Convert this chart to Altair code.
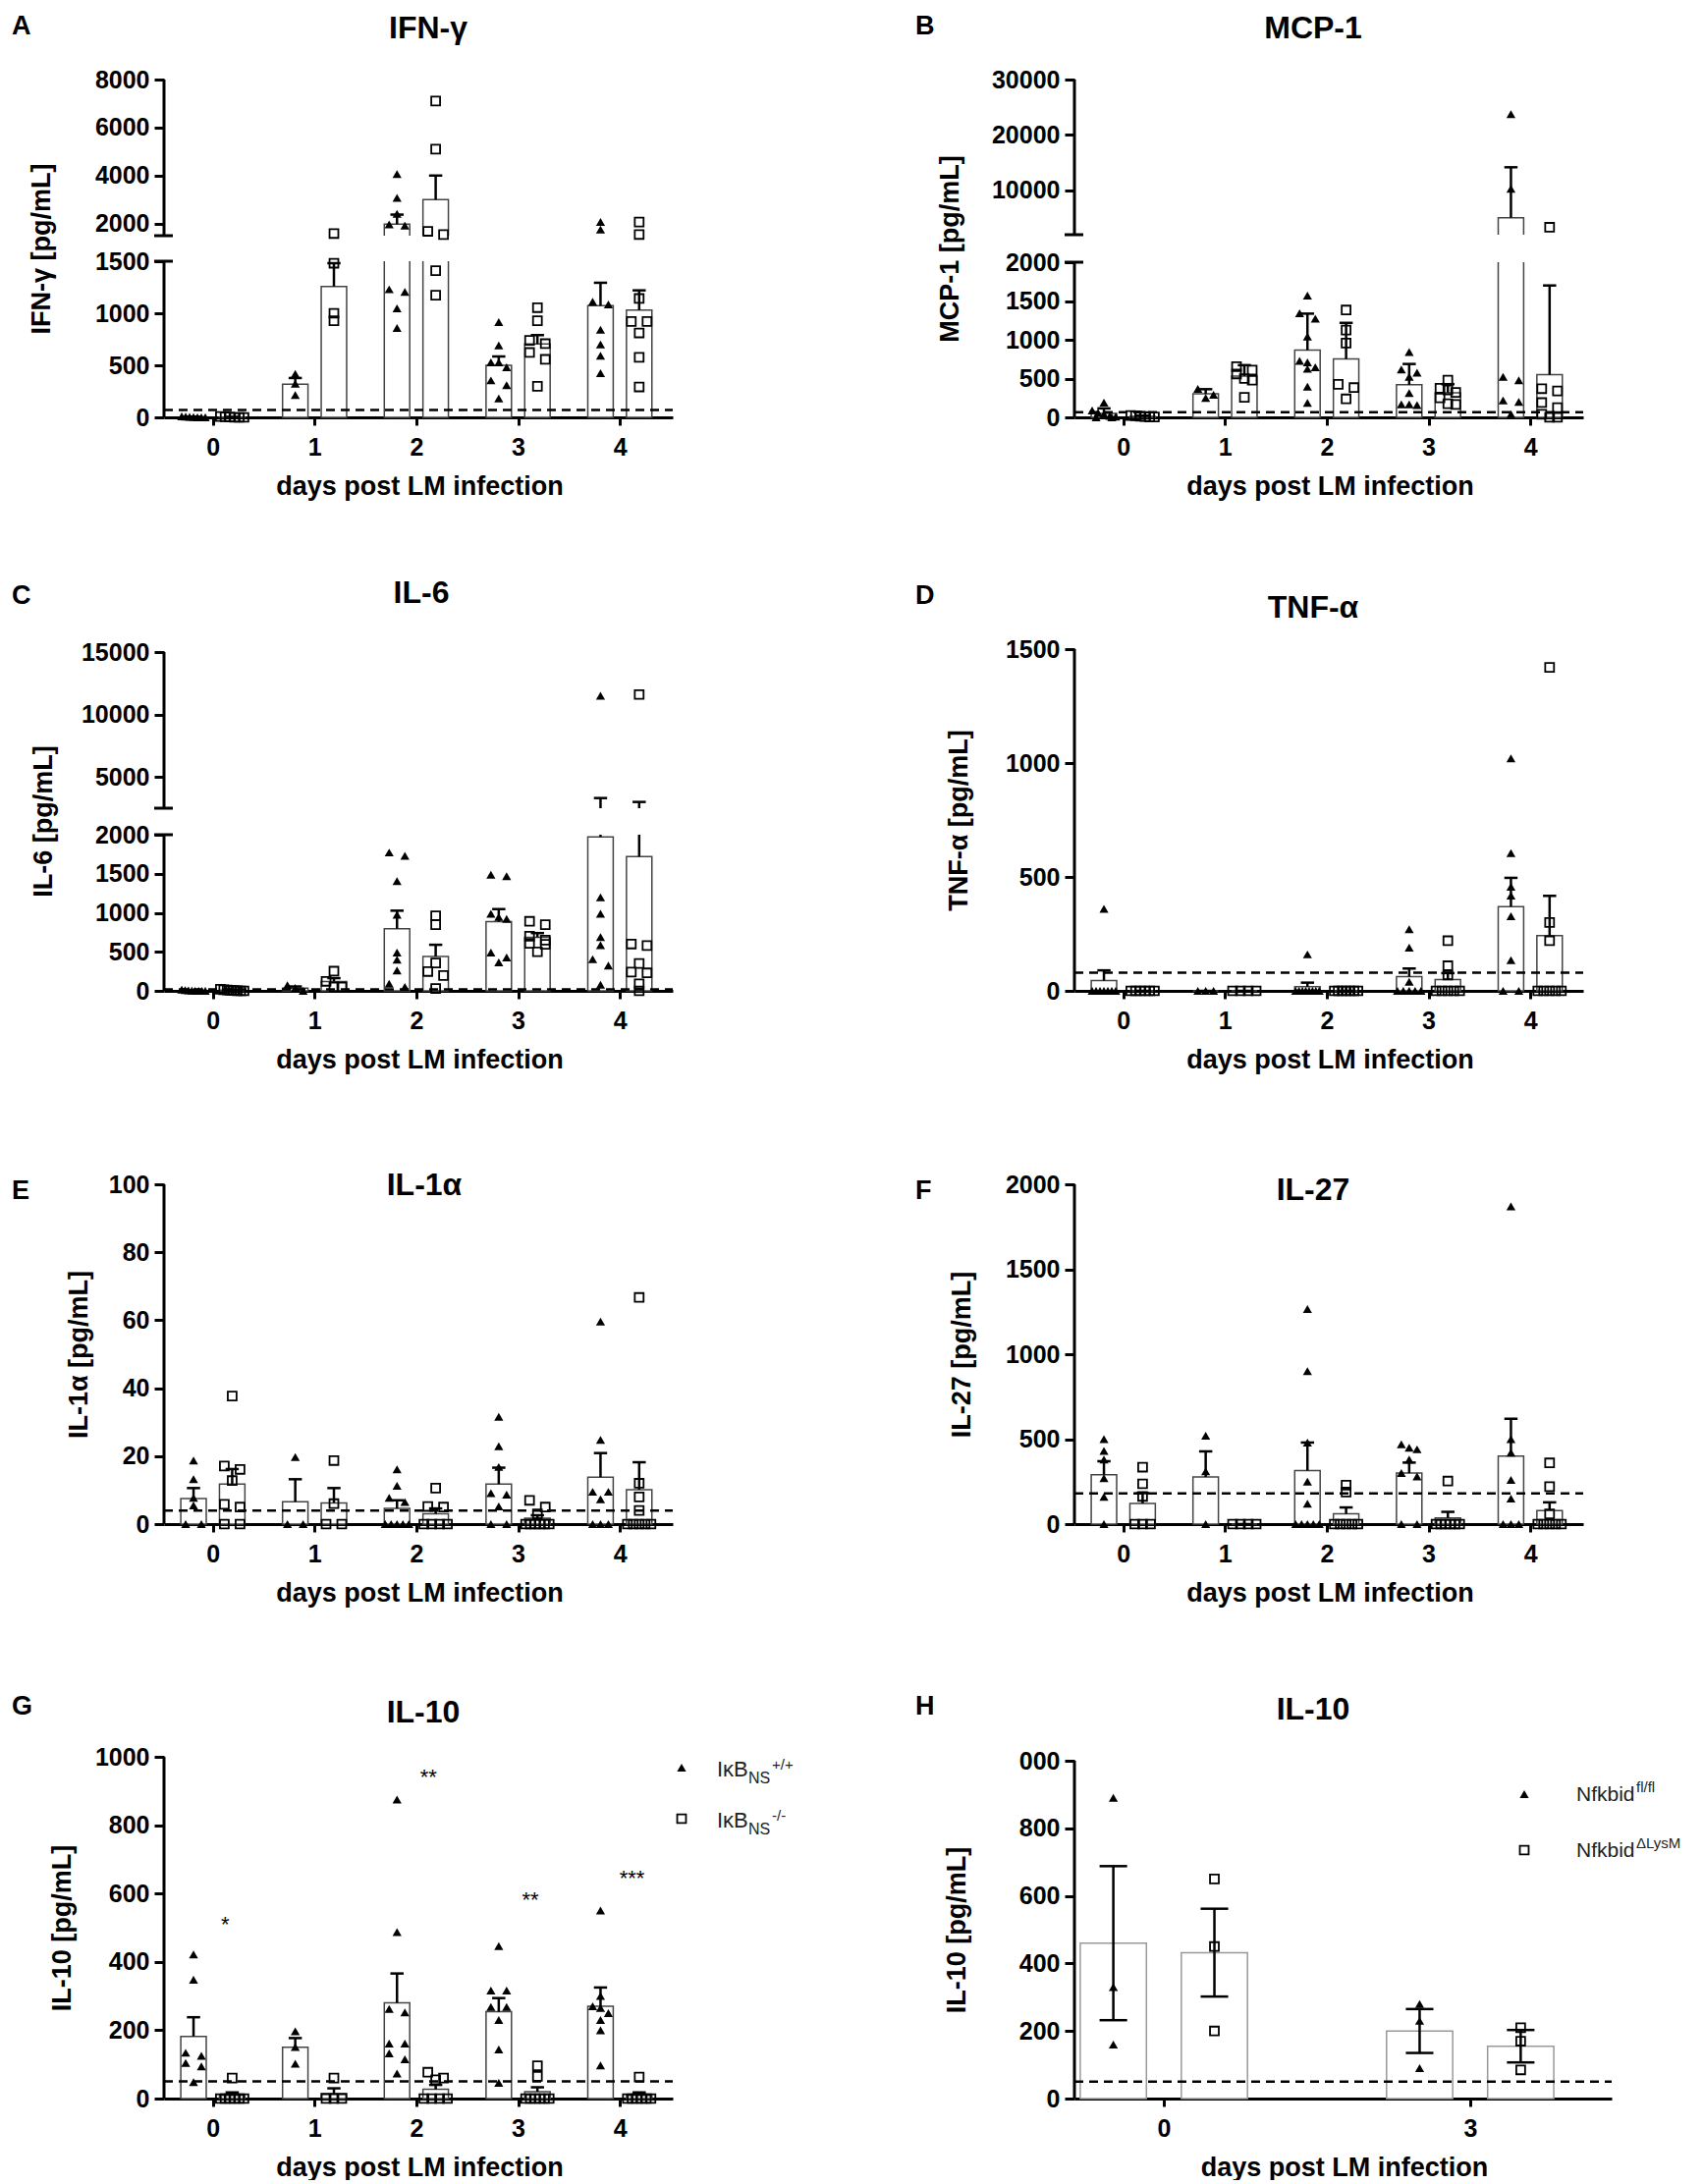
import altair as alt
import numpy as np
import pandas as pd

FONT = "Liberation Sans"

# ------------------------------------------------------------------ data
DAYS = [0, 1, 2, 3, 4]
DAY_LABELS = ["0", "1", "2", "3", "4"]
H_POS = [0, 1]
H_LABELS = ["0", "3"]
X_TITLE = "days post LM infection"

# A  IFN-gamma
IFNG_WT = [[10, 6, 4, 2, 0, 0, 0], [418, 324, 214],
           [4069, 3076, 2414, 1972, 1917, 1230, 1205, 1047, 859],
           [915, 692, 528, 528, 481, 355, 308, 182],
           [2069, 1752, 1110, 1085, 843, 701, 591, 425]]
IFNG_KO = [[8, 5, 3, 0, 0, 0], [1590, 1481, 1000, 928],
           [7103, 5103, 1683, 1545, 1409, 1173],
           [1054, 928, 739, 708, 623, 557, 299],
           [2069, 1550, 1142, 921, 921, 811, 576, 292]]
IFNG_WT_MEAN = [4, 319, 1977, 499, 1072]
IFNG_WT_ERR = [3, 59, 400, 86, 221]
IFNG_KO_MEAN = [3, 1258, 3003, 705, 1030]
IFNG_KO_ERR = [2, 223, 1000, 85, 190]
IFNG_LOD = 70

# B  MCP-1
MCP1_WT = [[190, 90, 60, 40, 20, 10, 0, 0], [367, 292, 250],
           [1571, 1342, 1271, 1042, 729, 708, 646, 625, 396, 188],
           [842, 617, 575, 521, 313, 167, 167, 158],
           [23739, 10290, 521, 479, 217, 200, 42]]
MCP1_KO = [[25, 20, 15, 10, 5, 5], [654, 610, 560, 500, 479, 258],
           [1383, 1125, 958, 425, 383, 238],
           [479, 375, 354, 321, 250, 175, 167],
           [3333, 370, 340, 190, 125, 40, 0, 0]]
MCP1_WT_MEAN = [51, 303, 867, 420, 5070]
MCP1_WT_ERR = [65, 60, 470, 268, 9100]
MCP1_KO_MEAN = [13, 533, 752, 318, 550]
MCP1_KO_ERR = [9, 140, 466, 110, 1150]
MCP1_LOD = 65

# C  IL-6
IL6_WT = [[15, 10, 5, 3, 0, 0, 0, 0], [71, 38, 0],
          [1772, 1730, 1407, 974, 491, 399, 260, 92, 50],
          [1487, 1470, 987, 945, 920, 491, 428, 365],
          [11510, 1197, 987, 689, 584, 407, 323, 80]]
IL6_KO = [[20, 15, 10, 8, 5, 3, 0, 0], [252, 122, 50, 50],
          [962, 848, 357, 248, 197, 29],
          [890, 848, 701, 650, 609, 596, 500],
          [11600, 600, 580, 350, 240, 230, 90, 0]]
IL6_WT_MEAN = [4, 36, 797, 887, 1972]
IL6_WT_ERR = [2, 20, 230, 160, 1340]
IL6_KO_MEAN = [8, 118, 440, 685, 1720]
IL6_KO_ERR = [3, 45, 150, 55, 1280]
IL6_LOD = 20

# D  TNF-alpha
TNF_WT = [[360, 0, 0, 0, 0, 0, 0, 0], [0, 0, 0],
          [160, 0, 0, 0, 0, 0, 0, 0, 0],
          [270, 190, 40, 0, 0, 0, 0, 0],
          [1020, 605, 457, 418, 328, 135, 0, 0]]
TNF_KO = [[0, 0, 0, 0, 0, 0], [0, 0, 0, 0], [0, 0, 0, 0, 0, 0, 0],
          [220, 110, 70, 0, 0, 0, 0, 0],
          [1420, 300, 220, 0, 0, 0, 0, 0]]
TNF_WT_MEAN = [45, 0, 18, 62, 370]
TNF_WT_ERR = [45, 0, 18, 36, 126]
TNF_KO_MEAN = [0, 0, 0, 50, 242]
TNF_KO_ERR = [0, 0, 0, 28, 175]
TNF_LOD = 80

# E  IL-1alpha
IL1A_WT = [[18.7, 13.2, 7.7, 5.5, 0, 0], [19.7, 0, 0],
           [16.1, 11.3, 7.7, 6.5, 0, 0, 0, 0, 0],
           [31.6, 22.9, 16.8, 9.1, 8.7, 5.2, 0, 0],
           [59.6, 24.8, 9.5, 9.5, 7.3, 0, 0, 0]]
IL1A_KO = [[37.7, 17.1, 16.1, 12.8, 5.8, 5, 0, 0], [18.7, 6, 0, 0],
           [10.6, 5.2, 5, 0, 0, 0, 0],
           [7, 5, 3, 0, 0, 0, 0, 0, 0],
           [66.7, 12, 8, 4, 0, 0, 0, 0, 0]]
IL1A_WT_MEAN = [7.5, 6.6, 4.6, 11.8, 13.8]
IL1A_WT_ERR = [3.1, 6.6, 2.4, 4.8, 7.1]
IL1A_KO_MEAN = [11.8, 6.2, 3.0, 1.7, 10.1]
IL1A_KO_ERR = [4.4, 4.4, 1.6, 0.9, 8.1]
IL1A_LOD = 4

# F  IL-27
IL27_WT = [[500, 430, 380, 270, 160, 0], [520, 310, 0],
           [1266, 900, 480, 250, 120, 0, 0, 0, 0, 0],
           [470, 450, 440, 380, 300, 280, 0, 0],
           [1870, 500, 420, 260, 150, 0, 0, 0]]
IL27_KO = [[335, 237, 163, 0, 0, 0], [0, 0, 0, 0],
           [229, 188, 0, 0, 0, 0, 0],
           [253, 0, 0, 0, 0, 0, 0],
           [360, 220, 60, 0, 0, 0, 0, 0]]
IL27_WT_MEAN = [290, 277, 315, 300, 400]
IL27_WT_ERR = [80, 151, 165, 62, 220]
IL27_KO_MEAN = [122, 0, 60, 36, 80]
IL27_KO_ERR = [60, 0, 38, 36, 48]
IL27_LOD = 180

# G  IL-10 (IkB_NS)
IL10_WT = [[422, 348, 134, 125, 104, 94, 48], [197, 151, 102],
           [875, 487, 262, 252, 161, 161, 132, 115, 73],
           [446, 316, 316, 268, 268, 230, 144, 46],
           [550, 300, 270, 265, 250, 230, 200, 97]]
IL10_KO = [[60, 0, 0, 0, 0, 0, 0], [60, 0, 0, 0],
           [77, 60, 55, 0, 0, 0, 0],
           [96, 65, 0, 0, 0, 0, 0, 0],
           [63, 0, 0, 0, 0, 0, 0]]
IL10_WT_MEAN = [182, 150, 280, 254, 270]
IL10_WT_ERR = [56, 27, 86, 40, 55]
IL10_KO_MEAN = [9, 15, 27, 20, 9]
IL10_KO_ERR = [9, 15, 13, 13, 9]
IL10_LOD = 50
IL10_SIG = ["*", "**", "**", "***"]
IL10_SIG_DAY = [0, 2, 3, 4]
IL10_SIG_Y = [526, 957, 598, 661]

# H  IL-10 (Nfkbid)
NF_WT = [[890, 330, 160], [280, 230, 90]]
NF_KO = [[650, 450, 200], [210, 170, 85]]
NF_WT_MEAN = [460, 200]
NF_WT_ERR = [228, 65]
NF_KO_MEAN = [432, 155]
NF_KO_ERR = [130, 48]
NF_LOD = 50

LEG_G = [("IκB", "NS", "+/+"), ("IκB", "NS", "-/-")]
LEG_H = [("Nfkbid", "fl/fl"), ("Nfkbid", "ΔLysM")]


# ------------------------------------------------------------------ helpers
def spread(vals, c, ypx, ppu, half):
    idx = sorted(range(len(vals)), key=lambda i: ypx(vals[i]))
    xs = [c] * len(vals)
    clusters, cur = [], []
    for i in idx:
        if cur and abs(ypx(vals[i]) - ypx(vals[cur[0]])) > 7:
            clusters.append(cur)
            cur = []
        cur.append(i)
    if cur:
        clusters.append(cur)
    for cl in clusters:
        n = len(cl)
        if n < 2:
            continue
        step = min(16.0 if n == 2 else 8.0, 2.0 * half / (n - 1))
        for j, i in enumerate(cl):
            xs[i] = c + (j - (n - 1) / 2.0) * step / ppu
    return xs


def text_at(s, x, y, size, weight="normal", align="left", baseline="alphabetic", color="black"):
    return alt.Chart(pd.DataFrame({"t": [s]})).mark_text(
        fontSize=size, fontWeight=weight, align=align, baseline=baseline,
        color=color, font=FONT).encode(text="t:N", x=alt.value(x), y=alt.value(y))


def marker_at(shape, x, y):
    if shape == "tri":
        m = alt.Chart(pd.DataFrame({"a": [0]})).mark_point(
            shape="triangle-up", filled=True, color="black", size=85, opacity=1)
    else:
        m = alt.Chart(pd.DataFrame({"a": [0]})).mark_point(
            shape="square", filled=False, color="black", strokeWidth=1.8, size=80, opacity=1)
    return m.encode(x=alt.value(x), y=alt.value(y))


def panel(P):
    W, H = P["w"], P["h"]
    ydom, yrng = P["ydom"], P["yrng"]
    ysc = alt.Scale(type="linear", domain=ydom, range=yrng, nice=False, zero=False)
    xsc = alt.Scale(type="linear", domain=P["xdom"], nice=False, zero=False)
    ppu = W / (P["xdom"][1] - P["xdom"][0])

    def ypx(v):
        return float(np.interp(v, ydom, yrng))

    bar_rows, pt_rows = [], []
    for g, sign in (("wt", -1), ("ko", 1)):
        pts, means, errs = P[g]
        for k, pos in enumerate(P["pos"]):
            c = pos + sign * P["off"]
            m, e = means[k], errs[k]
            bar_rows.append({"g": g, "c": c, "x1": c - P["hw"], "x2": c + P["hw"],
                             "m": m, "base": 0.0, "top": m + e,
                             "bot": (m - e) if P["both"] else m,
                             "c1": c - P["cw"], "c2": c + P["cw"]})
            for v, xx in zip(pts[k], spread(pts[k], c, ypx, ppu, P["half"])):
                pt_rows.append({"g": g, "x": xx, "v": v})
    bars = pd.DataFrame(bar_rows)
    pts = pd.DataFrame(pt_rows)

    lab_list = "[" + ",".join("'%s'" % s for s in P["xlabels"]) + "]"
    xaxis = alt.Axis(values=P["xticks"], labelExpr=lab_list + "[round(datum.value)]",
                     title=X_TITLE, titleX=W / 2 + 1, titleY=78, titleBaseline="alphabetic",
                     titleAlign="center", titleFontSize=27, titleFontWeight="bold",
                     titleColor="black", labelFontSize=25, labelFontWeight="bold",
                     labelColor="black", labelPadding=10, labelFlush=False,
                     labelOverlap=False, tickSize=8, tickWidth=3, tickColor="black",
                     domainWidth=3, domainColor="black", grid=False)
    ykw = dict(values=P["yticks"], title=P["ytitle"], titleX=P["ytx"], titleY=P["yty"],
               titleAngle=270, titleAlign="center", titleBaseline="middle",
               titleFontSize=27, titleFontWeight="bold", titleColor="black",
               labelFontSize=25, labelFontWeight="bold", labelColor="black",
               labelPadding=5, labelFlush=False, labelOverlap=False, tickSize=10,
               tickWidth=3, tickColor="black", domain=False, grid=False, format="d")
    if "ylabelexpr" in P:
        ykw["labelExpr"] = P["ylabelexpr"]
    yaxis = alt.Axis(**ykw)

    def X(f):
        return alt.X(f, scale=xsc, axis=xaxis)

    def Y(f):
        return alt.Y(f, scale=ysc, axis=yaxis)

    layers = []
    layers.append(alt.Chart(bars).mark_bar(fill="white", stroke=P["barstroke"], strokeWidth=1.5).encode(
        x=X("x1:Q"), x2="x2:Q", y=Y("m:Q"), y2="base:Q"))
    layers.append(alt.Chart(bars).mark_rule(color="black", strokeWidth=2.5).encode(
        x=X("c:Q"), y=Y("bot:Q"), y2="top:Q"))
    layers.append(alt.Chart(bars).mark_rule(color="black", strokeWidth=2.5).encode(
        x=X("c1:Q"), x2="c2:Q", y=Y("top:Q")))
    if P["both"]:
        layers.append(alt.Chart(bars).mark_rule(color="black", strokeWidth=2.5).encode(
            x=X("c1:Q"), x2="c2:Q", y=Y("bot:Q")))
    if P["gaps"]:
        layers.append(alt.Chart(pd.DataFrame(P["gaps"])).mark_rect(fill="white").encode(
            x=alt.value(3), x2=alt.value(W), y=Y("y1:Q"), y2="y2:Q"))
    layers.append(alt.Chart(pd.DataFrame({"lod": [P["lod"]]})).mark_rule(
        color="black", strokeWidth=2.5, strokeDash=[9, 6]).encode(
        x=alt.value(0), x2=alt.value(W), y=Y("lod:Q")))
    layers.append(alt.Chart(pts[pts.g == "wt"]).mark_point(
        shape="triangle-up", filled=True, color="black", size=85, opacity=1).encode(
        x=X("x:Q"), y=Y("v:Q")))
    layers.append(alt.Chart(pts[pts.g == "ko"]).mark_point(
        shape="square", filled=False, color="black", strokeWidth=1.8, size=80, opacity=1).encode(
        x=X("x:Q"), y=Y("v:Q")))
    layers.append(alt.Chart(pd.DataFrame(P["segs"])).mark_rule(color="black", strokeWidth=3).encode(
        x=alt.value(0), y=Y("y1:Q"), y2="y2:Q"))
    if P["caps"]:
        layers.append(alt.Chart(pd.DataFrame({"v": P["caps"]})).mark_rule(color="black", strokeWidth=3).encode(
            x=alt.value(-10), x2=alt.value(9), y=Y("v:Q")))
    layers.append(text_at(P["title"], P["tx"], P["ty"], 32, "bold", "center"))
    layers.append(text_at(P["letter"], P["lx"], P["ly"] + 26, 27, "bold", "left"))
    if "sig" in P:
        sig = pd.DataFrame({"s": P["sig"][0], "sx": [d + 0.12 for d in P["sig"][1]], "sy": P["sig"][2]})
        layers.append(alt.Chart(sig).mark_text(fontSize=22, align="center", baseline="middle", dy=6,
                                               color="black", font=FONT).encode(
            text="s:N", x=X("sx:Q"), y=Y("sy:Q")))
    if "legend" in P:
        layers.extend(P["legend"])
    return alt.layer(*layers).properties(width=W, height=H)


LEFT = dict(w=518, xdom=[-0.48, 4.52], pos=DAYS, off=0.19, hw=0.125, cw=0.065, half=12,
            xticks=DAYS, xlabels=DAY_LABELS, both=False, barstroke="#444")
RIGHT = dict(LEFT)

g_leg = []
for i, (a, sub, sup) in enumerate(LEG_G):
    dy = 52 * i
    g_leg.append(marker_at("tri" if i == 0 else "sq", 527, 51 + dy))
    g_leg.append(text_at(a, 563, 60 + dy, 22, color="#222"))
    g_leg.append(text_at(sub, 595, 67 + dy, 16, color="#222"))
    g_leg.append(text_at(sup, 619, 53 + dy, 15, color="#222"))
h_leg = []
for i, (a, sup) in enumerate(LEG_H):
    dy = 57 * i
    h_leg.append(marker_at("tri" if i == 0 else "sq", 458, 78 + dy))
    h_leg.append(text_at(a, 511, 85 + dy, 21, color="#222"))
    h_leg.append(text_at(sup, 572, 76 + dy, 15, color="#222"))

PANELS = [
    dict(LEFT, h=344, ydom=[0, 1500, 1500.001, 8000], yrng=[344, 185, 159, 0],
         yticks=[0, 500, 1000, 1500, 2000, 4000, 6000, 8000],
         segs=[{"y1": 0, "y2": 1500}, {"y1": 1500.001, "y2": 8000}], caps=[1500, 1500.001],
         gaps=[{"y1": 1500, "y2": 1500.001}],
         wt=(IFNG_WT, IFNG_WT_MEAN, IFNG_WT_ERR), ko=(IFNG_KO, IFNG_KO_MEAN, IFNG_KO_ERR),
         lod=IFNG_LOD, ytitle="IFN-γ [pg/mL]", ytx=-125, yty=172,
         title="IFN-γ", tx=269, ty=-42, letter="A", lx=-155, ly=-72),
    dict(RIGHT, h=344, ydom=[0, 2000, 2000.001, 30000], yrng=[344, 186, 158, 0],
         yticks=[0, 500, 1000, 1500, 2000, 10000, 20000, 30000],
         segs=[{"y1": 0, "y2": 2000}, {"y1": 2000.001, "y2": 30000}], caps=[2000, 2000.001],
         gaps=[{"y1": 2000, "y2": 2000.001}],
         wt=(MCP1_WT, MCP1_WT_MEAN, MCP1_WT_ERR), ko=(MCP1_KO, MCP1_KO_MEAN, MCP1_KO_ERR),
         lod=MCP1_LOD, ytitle="MCP-1 [pg/mL]", ytx=-127, yty=172,
         title="MCP-1", tx=243, ty=-42, letter="B", lx=-162, ly=-72),
    dict(LEFT, h=387, ydom=[0, 2000, 2500, 15000], yrng=[387, 228, 201, 42],
         yticks=[0, 500, 1000, 1500, 2000, 5000, 10000, 15000],
         segs=[{"y1": 0, "y2": 2000}, {"y1": 2500, "y2": 15000}], caps=[2000, 2500],
         gaps=[{"y1": 2000, "y2": 2500}],
         wt=(IL6_WT, IL6_WT_MEAN, IL6_WT_ERR), ko=(IL6_KO, IL6_KO_MEAN, IL6_KO_ERR),
         lod=IL6_LOD, ytitle="IL-6 [pg/mL]", ytx=-123, yty=214,
         title="IL-6", tx=262, ty=-8, letter="C", lx=-155, ly=-33),
    dict(RIGHT, h=387, ydom=[0, 1500], yrng=[387, 39], yticks=[0, 500, 1000, 1500],
         segs=[{"y1": 0, "y2": 1500}], caps=[], gaps=[],
         wt=(TNF_WT, TNF_WT_MEAN, TNF_WT_ERR), ko=(TNF_KO, TNF_KO_MEAN, TNF_KO_ERR),
         lod=TNF_LOD, ytitle="TNF-α [pg/mL]", ytx=-118, yty=213,
         title="TNF-α", tx=243, ty=7, letter="D", lx=-162, ly=-33),
    dict(LEFT, h=346, ydom=[0, 100], yrng=[346, 0], yticks=[0, 20, 40, 60, 80, 100],
         segs=[{"y1": 0, "y2": 100}], caps=[], gaps=[],
         wt=(IL1A_WT, IL1A_WT_MEAN, IL1A_WT_ERR), ko=(IL1A_KO, IL1A_KO_MEAN, IL1A_KO_ERR),
         lod=IL1A_LOD, ytitle="IL-1α [pg/mL]", ytx=-87, yty=173,
         title="IL-1α", tx=265, ty=11, letter="E", lx=-155, ly=-11),
    dict(RIGHT, h=346, ydom=[0, 2000], yrng=[346, 0], yticks=[0, 500, 1000, 1500, 2000],
         segs=[{"y1": 0, "y2": 2000}], caps=[], gaps=[],
         wt=(IL27_WT, IL27_WT_MEAN, IL27_WT_ERR), ko=(IL27_KO, IL27_KO_MEAN, IL27_KO_ERR),
         lod=IL27_LOD, ytitle="IL-27 [pg/mL]", ytx=-115, yty=173,
         title="IL-27", tx=243, ty=16, letter="F", lx=-162, ly=-11),
    dict(LEFT, h=388, ydom=[0, 1000], yrng=[388, 40], yticks=[0, 200, 400, 600, 800, 1000],
         segs=[{"y1": 0, "y2": 1000}], caps=[], gaps=[],
         wt=(IL10_WT, IL10_WT_MEAN, IL10_WT_ERR), ko=(IL10_KO, IL10_KO_MEAN, IL10_KO_ERR),
         lod=IL10_LOD, ytitle="IL-10 [pg/mL]", ytx=-104, yty=214,
         title="IL-10", tx=264, ty=5, letter="G", lx=-155, ly=-29,
         sig=(IL10_SIG, IL10_SIG_DAY, IL10_SIG_Y), legend=g_leg),
    dict(w=547, xdom=[-0.292, 1.462], pos=H_POS, off=0.165, hw=0.108, cw=0.045, half=20,
         xticks=H_POS, xlabels=H_LABELS, both=True, barstroke="#999",
         h=388, ydom=[0, 1000], yrng=[388, 44], yticks=[0, 200, 400, 600, 800, 1000],
         ylabelexpr="datum.value == 1000 ? '000' : datum.label",
         segs=[{"y1": 0, "y2": 1000}], caps=[], gaps=[],
         wt=(NF_WT, NF_WT_MEAN, NF_WT_ERR), ko=(NF_KO, NF_KO_MEAN, NF_KO_ERR),
         lod=NF_LOD, ytitle="IL-10 [pg/mL]", ytx=-120, yty=216,
         title="IL-10", tx=243, ty=2, letter="H", lx=-162, ly=-29, legend=h_leg),
]

chart = alt.concat(*[panel(p) for p in PANELS], columns=2,
                   spacing={"row": 197, "column": 409}, bounds="flush",
                   padding={"left": 4, "top": 5, "right": 0, "bottom": 0})
chart = chart.configure(font=FONT).configure_view(strokeWidth=0)
chart.save("out.html", embed_options={"renderer": "svg", "actions": False})
